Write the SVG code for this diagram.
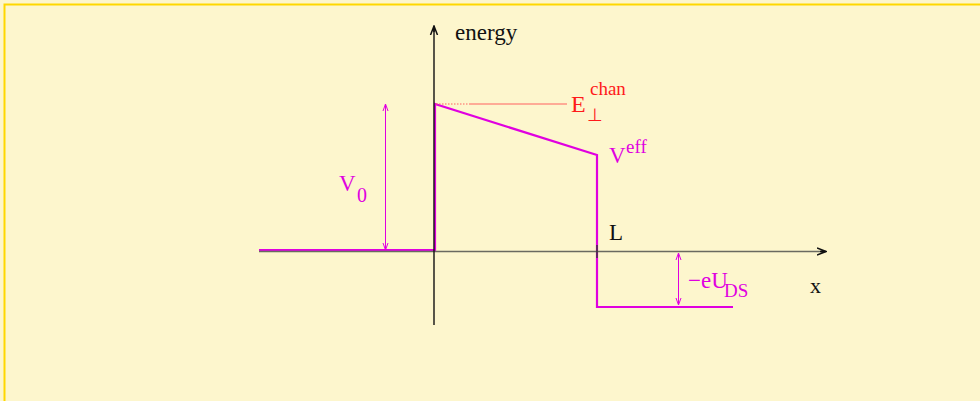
<svg xmlns="http://www.w3.org/2000/svg" width="980" height="401" viewBox="0 0 980 401">
<style>
.t{font-family:"Liberation Serif","Times New Roman",serif}
.mag{fill:#e000e0}
.red{fill:#ff1a1a}
.blk{fill:#111}
.pot{fill:none;stroke:#e000e0;stroke-width:2.2}
.dim{fill:none;stroke:#e000e0;stroke-width:1}
</style>
<defs>
<marker id="ah" markerWidth="10" markerHeight="10" refX="9" refY="5" orient="auto" markerUnits="userSpaceOnUse">
<path d="M0,1.5 L9,5 L0,8.5 M3,5 L9,5" fill="none" stroke="#111" stroke-width="1.5"/>
</marker>
<marker id="dh" markerWidth="8" markerHeight="8" refX="7" refY="4" orient="auto" markerUnits="userSpaceOnUse">
<path d="M0,1.5 L7,4 L0,6.5" fill="none" stroke="#e000e0" stroke-width="1"/>
</marker>
</defs>
<rect x="0" y="0" width="980" height="401" fill="#fdf6cd"/>
<path d="M4.5,401 V4.5 H980" fill="none" stroke="#ffd700" stroke-width="2"/>
<g id="potential">
<path class="pot" d="M259,250 H435 V104 L597,155 V307 H733"/>
</g>
<g id="connectors">
<line x1="259" y1="251.5" x2="826" y2="251.5" stroke="#6a6a60" stroke-width="1.6" marker-end="url(#ah)"/>
<line x1="434" y1="325" x2="434" y2="26" stroke="#111" stroke-width="1.4" marker-end="url(#ah)"/>
<line x1="597" y1="245" x2="597" y2="258" stroke="#333" stroke-width="1.4"/>
<line x1="436" y1="104" x2="470" y2="104" stroke="#ff6060" stroke-width="1" stroke-dasharray="1.5,1.5"/>
<line x1="470" y1="104" x2="567" y2="104" stroke="#ff6060" stroke-width="1.2"/>
<line x1="385.5" y1="128" x2="385.5" y2="104" class="dim" marker-end="url(#dh)"/>
<line x1="385.5" y1="128" x2="385.5" y2="250" class="dim" marker-end="url(#dh)"/>
<line x1="678.5" y1="280" x2="678.5" y2="253" class="dim" marker-end="url(#dh)"/>
<line x1="678.5" y1="280" x2="678.5" y2="305" class="dim" marker-end="url(#dh)"/>
</g>
<g id="label-energy"><text class="t blk" x="455" y="40" font-size="23">energy</text></g>
<g id="label-E"><text class="t red" x="571" y="112" font-size="24">E</text>
<text class="t red" x="590" y="95" font-size="19">chan</text>
<text class="t red" x="587" y="121" font-size="18">⊥</text></g>
<g id="label-V0"><text class="t mag" x="339" y="191" font-size="23">V</text>
<text class="t mag" x="357" y="202" font-size="20">0</text></g>
<g id="label-Veff"><text class="t mag" x="609" y="163" font-size="23">V</text>
<text class="t mag" x="626" y="153" font-size="19">eff</text></g>
<g id="label-L"><text class="t blk" x="609" y="240" font-size="23">L</text></g>
<g id="label-eUDS"><text class="t mag" x="688" y="288" font-size="23">−eU</text>
<text class="t mag" x="724" y="297" font-size="19">DS</text></g>
<g id="label-x"><text class="t blk" x="810" y="293" font-size="22">x</text></g>
</svg>
